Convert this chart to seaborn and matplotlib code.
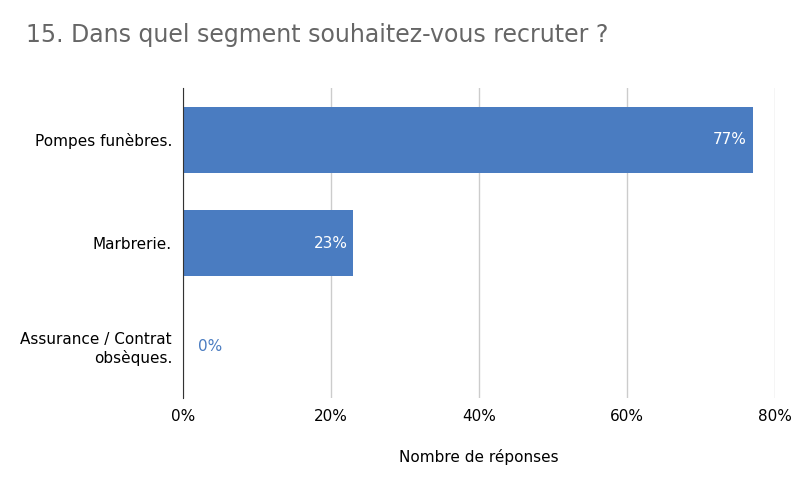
import matplotlib
matplotlib.use("Agg")
import matplotlib.pyplot as plt
import seaborn as sns
import pandas as pd

categories = ["Pompes funèbres.", "Marbrerie.", "Assurance / Contrat\nobsèques."]
values = [77, 23, 0]
xticks = [0, 20, 40, 60, 80]

bar_color = "#4a7cc1"
df = pd.DataFrame({"cat": categories, "val": values})

fig = plt.figure(figsize=(8, 4.95), dpi=100)
ax = fig.add_axes([0.229, 0.196, 0.74, 0.626])

sns.barplot(data=df, y="cat", x="val", color=bar_color, saturation=1, width=0.64, ax=ax)

ax.set_xlim(0, 80)
ax.set_ylim(2.5, -0.5)
ax.set_xticks(xticks)
ax.set_xticklabels([f"{t}%" for t in xticks], fontsize=11)
ax.tick_params(axis="y", labelsize=11, length=0, pad=8)
ax.tick_params(axis="x", length=0, pad=8)
ax.grid(axis="x", color="#cccccc", linewidth=1)
ax.set_axisbelow(True)
for s in ["top", "right", "bottom"]:
    ax.spines[s].set_visible(False)
ax.spines["left"].set_color("#333333")
ax.set_ylabel("")
ax.set_xlabel("Nombre de réponses", fontsize=11, labelpad=18)

for i, v in enumerate(values):
    if v > 5:
        ax.text(v - 0.8, i, f"{v}%", ha="right", va="center", color="white", fontsize=11)
    else:
        ax.text(v + 2, i, f"{v}%", ha="left", va="center", color=bar_color, fontsize=11)

fig.text(0.033, 0.915, "15. Dans quel segment souhaitez-vous recruter ?", fontsize=17, color="#666666")

fig.savefig("out.png", dpi=100)
